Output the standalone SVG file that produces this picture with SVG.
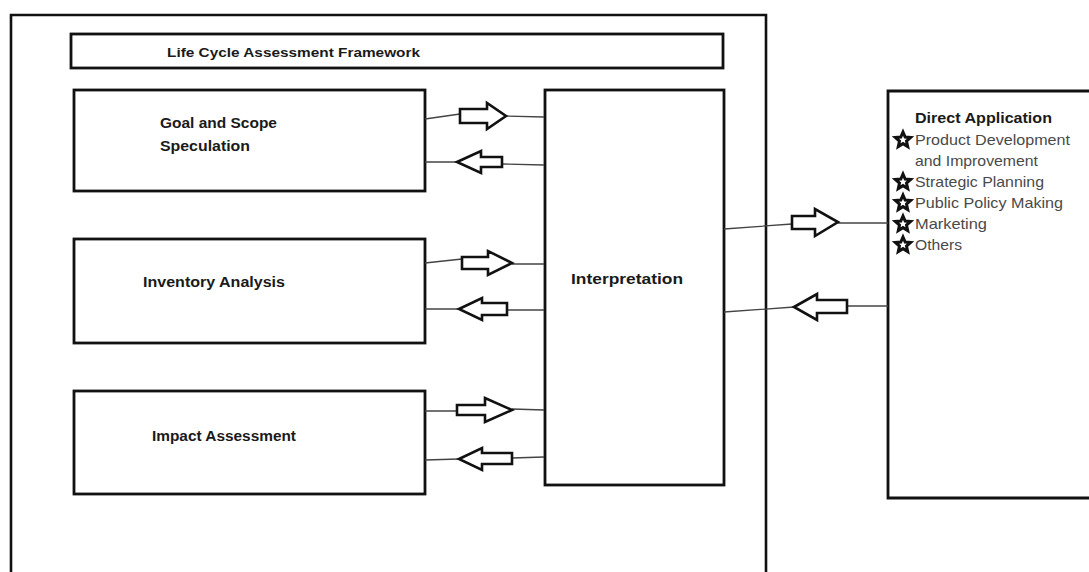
<svg xmlns="http://www.w3.org/2000/svg" width="1089" height="572" viewBox="0 0 1089 572">
<style>
.box{fill:#fff;stroke:#111;stroke-width:2.8}
.frame{fill:none;stroke:#111;stroke-width:2.6}
.arr{fill:#fff;stroke:#111;stroke-width:2.6;stroke-linejoin:miter}
.ln{fill:none;stroke:#444;stroke-width:1.3}
.lbl{font-family:"Liberation Sans",Arial,sans-serif;font-weight:bold;fill:#1a1a1a}
.item{font-family:"Liberation Sans",Arial,sans-serif;font-size:14.5px;fill:#4a4a4a}
.star{fill:#fff;stroke:#111;stroke-width:3;stroke-linejoin:miter}
</style>
<defs>
<polygon id="st" points="0,-8 2.2,-2.9 7.6,-2.5 3.5,1.1 4.7,6.5 0,3.6 -4.7,6.5 -3.5,1.1 -7.6,-2.5 -2.2,-2.9"/>
</defs>
<rect width="1089" height="572" fill="#fff"/>
<g id="framework">
<path class="frame" d="M11,575 L11,15 L766,15 L766,575"/>
</g>
<g id="title">
<rect class="box" x="71" y="34" width="652" height="34"/>
<text class="lbl" x="167" y="57" font-size="13.5" textLength="253" lengthAdjust="spacingAndGlyphs">Life Cycle Assessment Framework</text>
</g>
<g id="goal">
<rect class="box" x="74" y="90" width="351" height="101"/>
<text class="lbl" x="160" y="128" font-size="14.5" textLength="117" lengthAdjust="spacingAndGlyphs">Goal and Scope</text>
<text class="lbl" x="160" y="151" font-size="14.5" textLength="90" lengthAdjust="spacingAndGlyphs">Speculation</text>
</g>
<g id="inventory">
<rect class="box" x="74" y="239" width="351" height="104"/>
<text class="lbl" x="143" y="287" font-size="14.5" textLength="142" lengthAdjust="spacingAndGlyphs">Inventory Analysis</text>
</g>
<g id="impact">
<rect class="box" x="74" y="391" width="351" height="103"/>
<text class="lbl" x="152" y="441" font-size="14.5" textLength="144" lengthAdjust="spacingAndGlyphs">Impact Assessment</text>
</g>
<g id="interpretation">
<rect class="box" x="545" y="90" width="179" height="395"/>
<text class="lbl" x="571" y="284" font-size="14.5" textLength="112" lengthAdjust="spacingAndGlyphs">Interpretation</text>
</g>
<g id="direct">
<path class="box" d="M1095,91 L888,91 L888,498 L1095,498"/>
<text class="lbl" x="915" y="123" font-size="14.5" textLength="137" lengthAdjust="spacingAndGlyphs">Direct Application</text>
<text class="item" x="915" y="145" textLength="155" lengthAdjust="spacingAndGlyphs">Product Development</text>
<text class="item" x="915" y="166" textLength="123" lengthAdjust="spacingAndGlyphs">and Improvement</text>
<text class="item" x="915" y="187" textLength="129" lengthAdjust="spacingAndGlyphs">Strategic Planning</text>
<text class="item" x="915" y="208" textLength="148" lengthAdjust="spacingAndGlyphs">Public Policy Making</text>
<text class="item" x="915" y="229" textLength="72" lengthAdjust="spacingAndGlyphs">Marketing</text>
<text class="item" x="915" y="250" textLength="47" lengthAdjust="spacingAndGlyphs">Others</text>
<use href="#st" class="star" x="903" y="140"/>
<use href="#st" class="star" x="903" y="182"/>
<use href="#st" class="star" x="903" y="203"/>
<use href="#st" class="star" x="903" y="224"/>
<use href="#st" class="star" x="903" y="245"/>
</g>
<g id="connectors">
<path class="ln" d="M425,119 L460,114 M506,116 L544,117"/>
<path class="arr" d="M460,109 L487,109 L487,103 L506,116 L487,129 L487,123 L460,123 Z"/>
<path class="ln" d="M425,162 L457,162 M502,164 L544,165"/>
<path class="arr" d="M457,162 L481,151 L481,157 L502,157 L502,167 L481,167 L481,173 Z"/>
<path class="ln" d="M425,263 L462,259 M512,264 L544,264"/>
<path class="arr" d="M462,257 L488,257 L488,251 L512,263 L488,275 L488,269 L462,269 Z"/>
<path class="ln" d="M425,309 L459,309 M507,310 L544,310"/>
<path class="arr" d="M459,309 L482,298 L482,303 L507,303 L507,315 L482,315 L482,320 Z"/>
<path class="ln" d="M425,411 L457,411 M512,409 L544,410"/>
<path class="arr" d="M457,405 L485,405 L485,398 L512,410 L485,422 L485,415 L457,415 Z"/>
<path class="ln" d="M425,460 L459,459 M512,458 L544,457"/>
<path class="arr" d="M459,459 L482,448 L482,453 L512,453 L512,464 L482,464 L482,470 Z"/>
<path class="ln" d="M724,229 L792,224 M838,223 L888,223"/>
<path class="arr" d="M792,216 L815,216 L815,209 L838,222 L815,236 L815,229 L792,229 Z"/>
<path class="ln" d="M724,312 L794,307 M847,306 L888,306"/>
<path class="arr" d="M794,307 L817,294 L817,300 L847,300 L847,313 L817,313 L817,320 Z"/>
</g>
</svg>
